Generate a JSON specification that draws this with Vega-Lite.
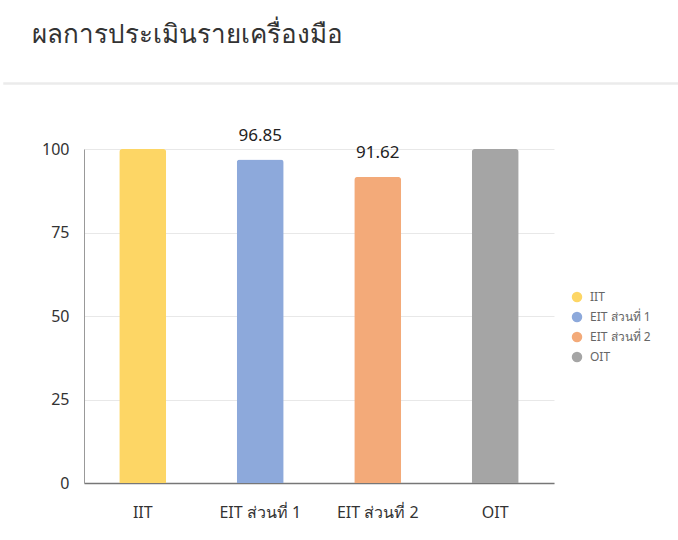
{
  "$schema": "https://vega.github.io/schema/vega-lite/v6.json",
  "background": "white",
  "padding": {"left": 3, "top": 22, "right": 0, "bottom": 0},
  "title": {"text": "ผลการประเมินรายเครื่องมือ", "anchor": "start", "fontSize": 26, "fontWeight": "normal", "color": "#333333", "dx": 29, "offset": 34, "font": "Noto Sans"},
  "config": {"view": {"stroke": null}, "font": "Noto Sans"},
  "spacing": 41,
  "vconcat": [
    {
      "width": 675,
      "height": 1,
      "view": {"stroke": "#ebebeb", "strokeWidth": 1.5},
      "data": {"values": []},
      "mark": "point"
    },
    {
      "spacing": 0,
      "hconcat": [
        {
          "width": 1,
          "height": 1,
          "data": {"values": []},
          "mark": "point"
        },
        {
          "width": 470,
          "height": 334,
          "data": {"values": [
            {"tool": "IIT", "score": 100},
            {"tool": "EIT ส่วนที่ 1", "score": 96.85},
            {"tool": "EIT ส่วนที่ 2", "score": 91.62},
            {"tool": "OIT", "score": 100}
          ]},
          "encoding": {
            "x": {"field": "tool", "type": "nominal", "sort": null,
              "scale": {"paddingInner": 0.6, "paddingOuter": 0.3},
              "axis": {"title": null, "labelAngle": 0, "labelFontSize": 16, "labelColor": "#333333", "labelPadding": 21, "ticks": false, "domainColor": "#777777", "domainWidth": 1.5}},
            "y": {"field": "score", "type": "quantitative",
              "scale": {"domain": [0, 100]},
              "axis": {"title": null, "values": [0, 25, 50, 75, 100], "labelFontSize": 16, "labelColor": "#333333", "ticks": false, "labelPadding": 15, "minExtent": 79, "gridColor": "#e8e8e8", "domainColor": "#999999"}}
          },
          "layer": [
            {
              "mark": {"type": "bar", "cornerRadiusTopLeft": 3, "cornerRadiusTopRight": 3},
              "encoding": {
                "color": {"field": "tool", "type": "nominal", "sort": null,
                  "scale": {"domain": ["IIT", "EIT ส่วนที่ 1", "EIT ส่วนที่ 2", "OIT"], "range": ["#FDD665", "#8DA9DB", "#F3AA79", "#A5A5A5"]},
                  "legend": {"title": null, "orient": "none", "legendX": 567, "legendY": 208, "symbolType": "circle", "symbolSize": 110, "labelFontSize": 12, "labelColor": "#666666", "rowPadding": 8, "labelOffset": 7}}
              }
            },
            {
              "transform": [{"filter": "datum.score < 100"}],
              "mark": {"type": "text", "baseline": "bottom", "dy": -15, "fontSize": 17, "color": "#222222"},
              "encoding": {"text": {"field": "score", "type": "quantitative", "format": ".2f"}}
            }
          ]
        }
      ]
    }
  ]
}
